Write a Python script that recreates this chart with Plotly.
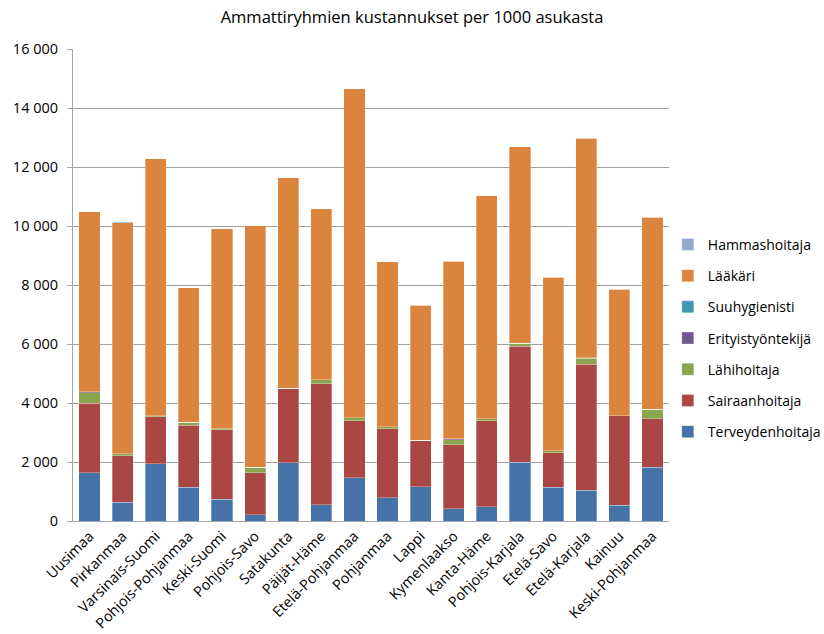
import plotly.graph_objects as go

regions = ["Uusimaa", "Pirkanmaa", "Varsinais-Suomi", "Pohjois-Pohjanmaa", "Keski-Suomi",
           "Pohjois-Savo", "Satakunta", "Päijät-Häme", "Etelä-Pohjanmaa", "Pohjanmaa",
           "Lappi", "Kymenlaakso", "Kanta-Häme", "Pohjois-Karjala", "Etelä-Savo",
           "Etelä-Karjala", "Kainuu", "Keski-Pohjanmaa"]

terveydenhoitaja = [1630, 640, 1940, 1140, 730, 210, 1970, 550, 1460, 790,
                    1160, 410, 490, 2000, 1140, 1050, 530, 1820]
sairaanhoitaja = [2370, 1580, 1600, 2100, 2370, 1430, 2510, 4100, 1940, 2340,
                  1560, 2180, 2910, 3930, 1180, 4260, 3030, 1650]
lahihoitaja = [340, 60, 30, 100, 30, 190, 20, 140, 100, 60,
               10, 170, 60, 90, 60, 200, 0, 310]
erityistyontekija = [45, 0, 0, 0, 0, 0, 0, 0, 0, 0,
                     0, 30, 0, 0, 0, 20, 0, 10]
suuhygienisti = [0, 0, 0, 0, 0, 0, 0, 0, 0, 0,
                 0, 0, 0, 0, 0, 0, 0, 0]
laakari = [6105, 7830, 8710, 4570, 6780, 8180, 7130, 5790, 11155, 5590,
           4580, 6010, 7560, 6670, 5890, 7440, 4290, 6515]
hammashoitaja = [0, 30, 0, 0, 0, 0, 0, 0, 0, 0,
                 0, 0, 0, 0, 0, 0, 0, 0]

y_tickvals = [0, 2000, 4000, 6000, 8000, 10000, 12000, 14000, 16000]
y_ticktext = ["0", "2 000", "4 000", "6 000", "8 000", "10 000", "12 000", "14 000", "16 000"]

series = [
    ("Terveydenhoitaja", terveydenhoitaja, "#4572A7"),
    ("Sairaanhoitaja", sairaanhoitaja, "#AA4643"),
    ("Lähihoitaja", lahihoitaja, "#89A54E"),
    ("Erityistyöntekijä", erityistyontekija, "#71588F"),
    ("Suuhygienisti", suuhygienisti, "#4198AF"),
    ("Lääkäri", laakari, "#DB843D"),
    ("Hammashoitaja", hammashoitaja, "#93A9CF"),
]

fig = go.Figure()
for i, (name, vals, col) in enumerate(series):
    fig.add_trace(go.Bar(
        x=regions, y=vals, name=name, legendgroup=name,
        legendrank=1000 - i,
        marker=dict(color=col, line=dict(color="rgba(255,255,255,0.5)", width=0.6)),
    ))

font_family = "Open Sans, Liberation Sans, Arial, sans-serif"

fig.update_layout(
    barmode="stack",
    bargap=0.36,
    width=824, height=634,
    margin=dict(l=73, r=155, t=49, b=113, autoexpand=False),
    paper_bgcolor="white", plot_bgcolor="white",
    font=dict(family=font_family, size=14, color="#000000"),
    title=dict(text="Ammattiryhmien kustannukset per 1000 asukasta",
               x=0.5, xref="container", xanchor="center",
               y=1 - 17 / 634, yref="container", yanchor="middle",
               font=dict(size=16.5, family=font_family)),
    showlegend=True,
    legend=dict(traceorder="grouped", x=0.998, xanchor="left", y=0.387, yanchor="middle",
                font=dict(size=14, family=font_family), tracegroupgap=10,
                itemwidth=30, bgcolor="rgba(0,0,0,0)"),
    xaxis=dict(tickangle=-45, showgrid=False, showline=True, linecolor="#A6A6A6",
               linewidth=1, ticks="", tickfont=dict(size=14.5, family=font_family)),
    yaxis=dict(range=[0, 16000], tickvals=y_tickvals, ticktext=y_ticktext,
               showgrid=True, gridcolor="#A0A0A0", gridwidth=1,
               showline=True, linecolor="#A6A6A6", linewidth=1,
               ticks="outside", ticklen=5, tickcolor="#A6A6A6",
               ticklabelstandoff=6,
               zeroline=False, tickfont=dict(size=14.5, family=font_family)),
)

fig.write_html("out.html", config={"displayModeBar": False},
               post_script="document.body.style.margin='0';")
